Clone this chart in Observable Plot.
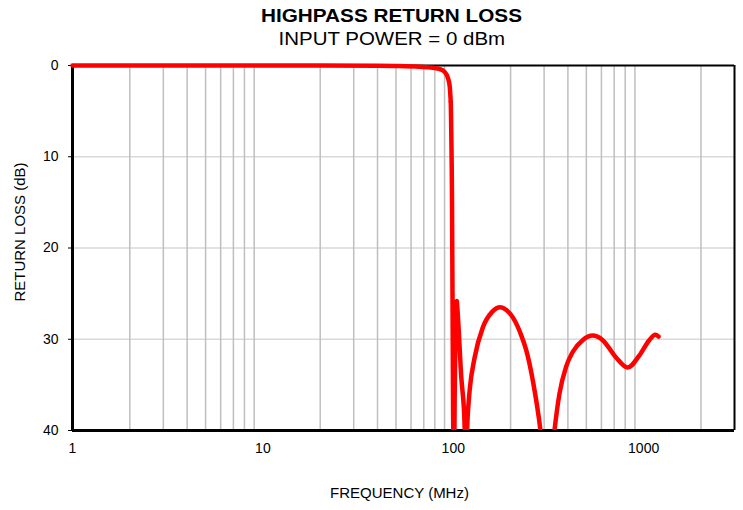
<!DOCTYPE html>
<html>
<head>
<meta charset="utf-8">
<script src="https://cdn.jsdelivr.net/npm/d3@7"></script>
<script src="https://cdn.jsdelivr.net/npm/@observablehq/plot@0.6"></script>
<style>
  body { margin: 0; background: #fff; font-family: "Liberation Sans", Arial, sans-serif; }
  #wrap { width: 743px; }
  .t1 { padding-left: 40px; padding-top: 2px; height: 28px; line-height: 28px; text-align: center; color: #000; }
  .t2 { padding-left: 40px; height: 18px; line-height: 18px; text-align: center; color: #000; }
  .t1 span { display: inline-block; font-size: 18.5px; font-weight: bold; transform: scaleX(1.12); }
  .t2 span { display: inline-block; font-size: 17.5px; transform: scaleX(1.17); }
</style>
</head>
<body>
<div id="wrap">
  <div class="t1"><span>HIGHPASS RETURN LOSS</span></div>
  <div class="t2"><span>INPUT POWER = 0 dBm</span></div>
  <div id="chart"></div>
</div>
<script>
const freq = [1, 10, 20, 40, 52, 66.7, 78, 85, 90, 93.5, 95.8, 97, 98.5, 99.8, 100.8, 102, 103.5, 104.3, 105, 110.3, 114, 116.5, 119, 121.9, 129.5, 143, 160, 176.6, 190, 205.5, 225, 241.7, 261.6, 287, 312, 340, 361, 391.6, 423.6, 478, 539.8, 609.5, 716, 823.7, 948, 1070, 1150, 1197];
const returnLoss = [0, 0, 0, 0.02, 0.05, 0.14, 0.25, 0.4, 0.7, 1.3, 2.3, 4, 15, 38, 44, 34, 26.5, 25.8, 26.5, 34.3, 38, 43, 38.5, 35.6, 32, 28.7, 27, 26.5, 26.8, 27.6, 29.3, 31.2, 34.5, 40, 48, 40, 36, 33, 31.4, 30.1, 29.6, 30.1, 32, 33.1, 31.8, 30.1, 29.5, 29.7];
const xTicks = [1, 10, 100, 1000];
const yTicks = [0, 10, 20, 30, 40];
const xGrid = [2, 3, 4, 5, 6, 7, 8, 9, 20, 30, 40, 50, 60, 70, 80, 90, 200, 300, 400, 500, 600, 700, 800, 900, 2000];
const yGrid = [10, 20, 30];
const xLabel = "FREQUENCY (MHz)";
const yLabel = "RETURN LOSS (dB)";

const data = freq.map((f, i) => ({f, rl: returnLoss[i]}));
const splitIdx = freq.indexOf(97);
const topPart = data.slice(0, splitIdx + 1);
const restPart = data.slice(splitIdx);

const chart = Plot.plot({
  width: 743,
  height: 462,
  marginLeft: 72,
  marginRight: 9,
  marginTop: 17,
  marginBottom: 80,
  style: { fontFamily: "'Liberation Sans', Arial, sans-serif", fontSize: "14px", color: "#000", background: "#fff" },
  x: { type: "log", domain: [1, 3000], ticks: xTicks, tickFormat: d => String(d), tickSize: 0, tickPadding: 13, label: null },
  y: { domain: [0, 40], reverse: true, ticks: yTicks, tickSize: 4, tickPadding: 10, label: null },
  marks: [
    Plot.ruleY(yGrid, { stroke: "#d9d9d9", strokeWidth: 1.5 }),
    Plot.ruleX(xGrid, { stroke: "#bfbfbf", strokeWidth: 1.5 }),
    Plot.ruleY([0], { stroke: "#000", strokeWidth: 2 }),
    Plot.ruleX([3000], { stroke: "#000", strokeWidth: 2 }),
    Plot.ruleY([40], { stroke: "#000", strokeWidth: 3 }),
    Plot.ruleX([1], { stroke: "#000", strokeWidth: 3 }),
    Plot.line(topPart, { x: "f", y: "rl", stroke: "#ff0000", strokeWidth: 4.5, curve: "monotone-x", strokeLinecap: "round", strokeLinejoin: "round" }),
    Plot.line(restPart, { x: "f", y: "rl", stroke: "#ff0000", strokeWidth: 4.5, curve: "monotone-x", strokeLinecap: "round", strokeLinejoin: "round", clip: true }),
    Plot.text([xLabel], { frameAnchor: "bottom", text: d => d, dx: -4, dy: 67, fontSize: 15 }),
    Plot.text([yLabel], { frameAnchor: "left", textAnchor: "middle", text: d => d, rotate: -90, dx: -52, dy: -16, fontSize: 15 })
  ]
});
document.getElementById("chart").appendChild(chart);
</script>
</body>
</html>
